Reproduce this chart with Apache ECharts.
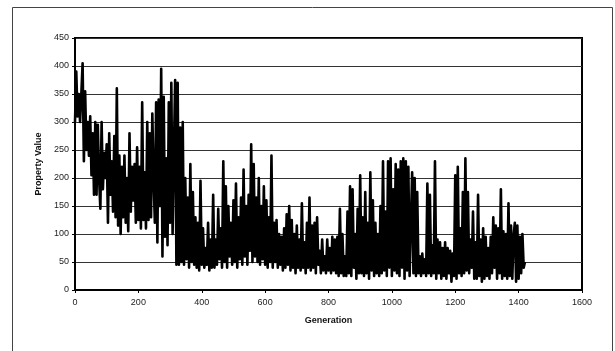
<!DOCTYPE html>
<html>
<head>
<meta charset="utf-8">
<script src="https://cdn.jsdelivr.net/npm/echarts@6/dist/echarts.min.js"></script>
<style>html,body{margin:0;padding:0;background:#fff;}#c{width:615px;height:351px;}</style>
</head>
<body>
<div id="c"></div>
<script>
// Generation axis: one sample every 4 generations, starting at 0
const genStart = 0;
const genStep = 4;
const xTicks = [0, 200, 400, 600, 800, 1000, 1200, 1400, 1600];
const yTicks = [0, 50, 100, 150, 200, 250, 300, 350, 400, 450];

const values0 = [300,390,310,350,300,350,405,230,355,250,300,240,310,205,280,170,300,170,295,200,145,300,180,245,200];
const values100 = [260,120,280,170,230,140,275,130,360,115,240,100,220,130,240,120,200,105,280,140,220,160,225,120,255];
const values200 = [125,220,110,335,125,210,110,300,125,280,130,315,200,120,335,85,340,150,395,60,345,95,235,80,335];
const values300 = [120,370,100,240,375,45,370,45,290,50,300,45,200,55,165,40,225,50,175,45,130,40,120,35,195];
const values400 = [45,110,40,75,45,120,35,90,40,170,40,90,45,145,55,110,40,230,50,185,40,150,60,120,45];
const values500 = [160,50,190,40,130,55,165,45,215,60,150,45,170,70,260,50,225,60,165,50,200,45,150,55,185];
const values600 = [45,160,40,130,50,240,40,120,50,125,40,100,45,95,35,110,40,135,45,150,35,125,40,100,30];
const values700 = [115,40,90,35,155,40,85,30,120,40,165,35,115,40,120,30,130,45,70,30,90,35,60,30,90];
const values800 = [35,75,30,95,35,90,30,95,25,145,30,100,25,60,25,140,30,185,25,180,40,100,20,145,30];
const values900 = [205,30,130,25,175,30,120,20,210,35,160,25,120,30,100,25,150,30,230,35,140,25,230,40,235];
const values1000 = [25,180,35,225,30,215,25,230,40,235,20,230,35,220,25,120,210,30,200,25,175,30,60,25,65];
const values1100 = [30,55,25,190,30,170,25,80,30,230,20,90,30,85,20,75,25,85,20,75,30,70,15,65,25];
const values1200 = [205,20,220,30,110,25,175,30,235,35,175,30,90,40,140,20,85,20,170,25,90,15,110,20,95];
const values1300 = [25,75,20,95,30,130,40,115,20,110,30,180,20,105,25,100,20,155,25,115,20,95,120,15,115,20,95,30,100,40,50];

const values = [].concat(values0, values100, values200, values300, values400, values500,
  values600, values700, values800, values900, values1000, values1100, values1200, values1300);
const seriesData = values.map((v, i) => [genStart + i * genStep, v]);

const chart = echarts.init(document.getElementById('c'), null, {renderer: 'canvas'});
const font = 'Liberation Sans, Arial, sans-serif';
chart.setOption({
  animation: false,
  backgroundColor: '#fff',
  graphic: [{
    type: 'rect', shape: {x: 12.5, y: 7.5, width: 600, height: 360},
    style: {fill: 'none', stroke: '#444', lineWidth: 1}, silent: true, z: 0
  }],
  grid: {left: 75, top: 38, right: 33, bottom: 61, show: true, borderColor: '#000', borderWidth: 2, backgroundColor: 'transparent'},
  xAxis: {
    type: 'value', min: xTicks[0], max: xTicks[xTicks.length - 1], interval: 200,
    name: 'Generation', nameLocation: 'middle', nameGap: 26,
    nameTextStyle: {fontFamily: font, fontSize: 9, fontWeight: 'bold', color: '#111'},
    axisLine: {show: true, lineStyle: {color: '#000', width: 2}},
    axisTick: {show: true, length: 3, lineStyle: {color: '#000'}},
    axisLabel: {fontFamily: font, fontSize: 9, color: '#222', margin: 8, formatter: v => String(v)},
    splitLine: {show: false}
  },
  yAxis: {
    type: 'value', min: yTicks[0], max: yTicks[yTicks.length - 1], interval: 50,
    name: 'Property Value', nameLocation: 'middle', nameGap: 30, nameRotate: 90,
    nameTextStyle: {fontFamily: font, fontSize: 9, fontWeight: 'bold', color: '#111'},
    axisLine: {show: true, lineStyle: {color: '#000', width: 2}},
    axisTick: {show: true, length: 3, lineStyle: {color: '#000'}},
    axisLabel: {fontFamily: font, fontSize: 9, color: '#222', margin: 6, formatter: v => String(v)},
    splitLine: {show: true, lineStyle: {color: '#333', width: 1}}
  },
  series: [{
    type: 'line', data: seriesData, showSymbol: false, symbol: 'none',
    lineStyle: {color: '#000', width: 2.6, join: 'round'}, z: 5
  }]
});
</script>
</body>
</html>
